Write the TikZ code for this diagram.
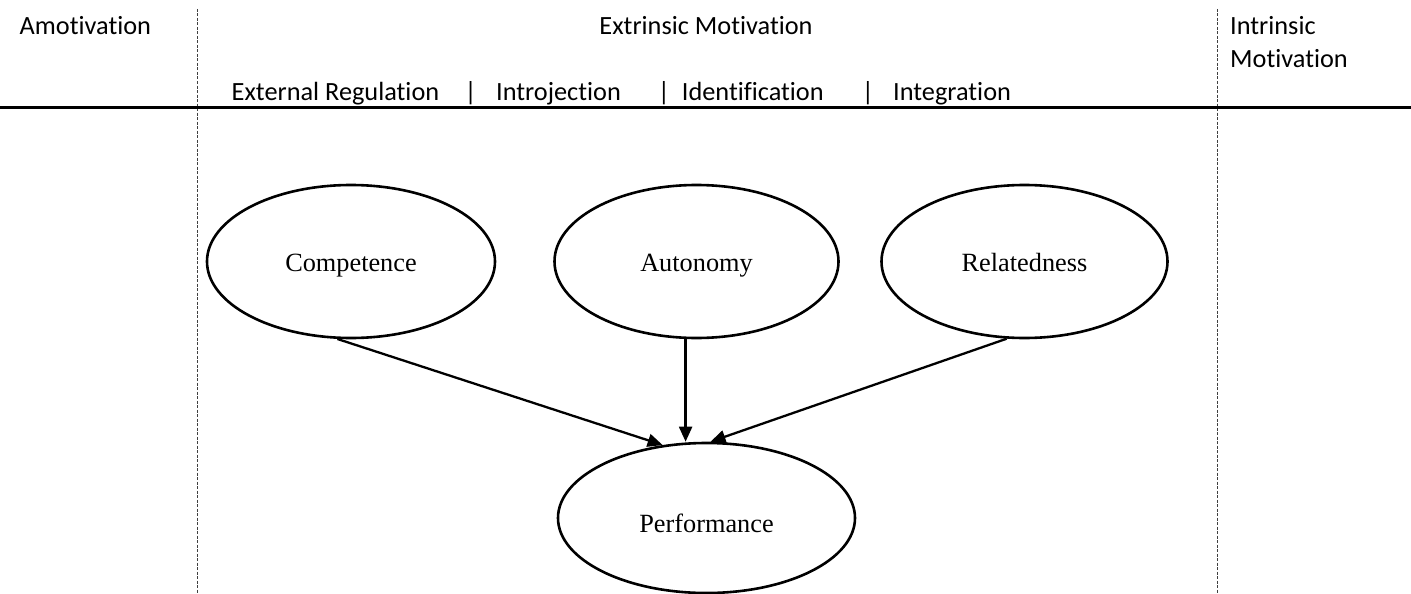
\documentclass[tikz,border=0pt]{standalone}
\usepackage{fontspec}
\setmainfont{Liberation Serif}
\newfontfamily\calib[Ligatures={NoCommon}]{Carlito}
\usetikzlibrary{shapes.geometric,arrows.meta}
\begin{document}
\begin{tikzpicture}[x=1pt,y=-1pt,
  hdr/.style={font=\calib\fontsize{26.3}{30}\selectfont, inner sep=0pt, anchor=base west},
  need/.style={ellipse, draw, line width=2.6pt, minimum width=288pt, minimum height=153pt,
    inner sep=0pt, text height=19pt, text depth=0pt, font=\fontsize{26.3}{30}\selectfont},
  link/.style={line width=2.3pt, -{Triangle[length=15pt,width=13pt]}},
  divider/.style={line width=0.9pt, draw=black!75, dash pattern=on 3pt off 1.5pt},
  rule/.style={line width=2.5pt}]
\useasboundingbox (0,0) rectangle (1411,594);

% dividers
\coordinate (d1t) at (197,9);
\coordinate (d1b) at (197,594);
\coordinate (d2t) at (1217,9);
\coordinate (d2b) at (1217,594);
\draw[divider] (d1t) -- (d1b);
\draw[divider] (d2t) -- (d2b);

\coordinate (rl) at (0,107.7);
\coordinate (rr) at (1411,107.7);
\draw[rule] (rl) -- (rr);

% header texts
\node[hdr] (amot) at (19.5,34.5) {Amotivation};
\node[hdr, anchor=base] (extr) at (706,34.5) {Extrinsic Motivation};
\node[hdr] (intr1) at (1230,34.5) {Intrinsic};
\node[hdr] (intr2) at (1230,67) {Motivation};

\node[hdr] (extreg) at (231.5,100) {External Regulation};
\node[hdr, anchor=base] (bar1) at (470.7,100) {|};
\node[hdr] (introj) at (496,100) {Introjection};
\node[hdr, anchor=base] (bar2) at (664,100) {|};
\node[hdr] (ident) at (681.7,100) {Identification};
\node[hdr, anchor=base] (bar3) at (868,100) {|};
\node[hdr] (integ) at (893,100) {Integration};

% ellipses
\node[need] (comp) at (351,261.5) {Competence};
\node[need, minimum width=284pt] (auto) at (696.5,261.5) {Autonomy};
\node[need, minimum width=286pt] (rel) at (1024.5,261.5) {Relatedness};
\node[need, minimum width=297pt, minimum height=150pt] (perf) at (706.5,518) {\raisebox{-5pt}{Performance}};

% arrows
\draw[link] (comp.260.4) -- (perf.121);
\draw[link] (auto.262.2) -- (perf.north -| auto.262.2);
\draw[link] (rel.257.8) -- (perf.87);
\end{tikzpicture}
\end{document}
